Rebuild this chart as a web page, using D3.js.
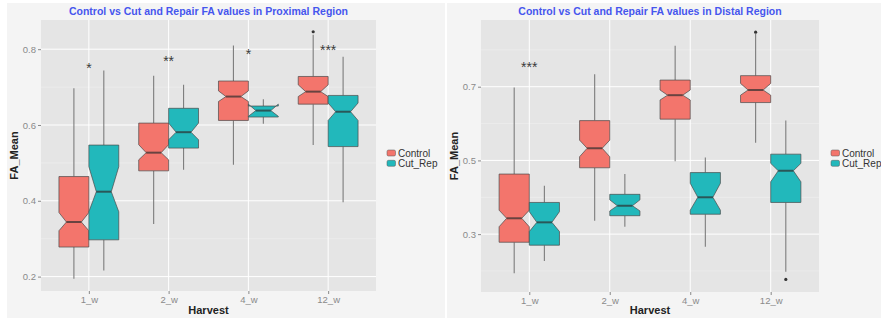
<!DOCTYPE html>
<html>
<head>
<meta charset="utf-8">
<script src="https://cdn.jsdelivr.net/npm/d3@7"></script>
<style>
  html, body { margin: 0; padding: 0; background: #ffffff; }
  svg { display: block; font-family: "Liberation Sans", Arial, Helvetica, sans-serif; }
</style>
</head>
<body>
<svg id="chart" width="881" height="320"></svg>
<script>
// Harvest time points and groups
const categories = ["1_w", "2_w", "4_w", "12_w"];
const groups = ["Control", "Cut_Rep"];
const groupColors = ["#f3756c", "#22b8bb"];

// Each box: [whiskerLow, q1, notchLow, median, notchHigh, q3, whiskerHigh]
const proximalControl = [
  [0.194, 0.278, 0.321, 0.344, 0.369, 0.464, 0.697],
  [0.339, 0.479, 0.508, 0.527, 0.548, 0.605, 0.730],
  [0.495, 0.612, 0.662, 0.675, 0.690, 0.716, 0.810],
  [0.547, 0.655, 0.675, 0.688, 0.706, 0.728, 0.838]
];
const proximalCutRep = [
  [0.216, 0.297, 0.371, 0.424, 0.490, 0.547, 0.744],
  [0.482, 0.539, 0.561, 0.581, 0.605, 0.644, 0.706],
  [0.603, 0.621, 0.623, 0.638, 0.655, 0.650, 0.668],
  [0.396, 0.543, 0.612, 0.635, 0.658, 0.678, 0.780]
];
const distalControl = [
  [0.194, 0.278, 0.320, 0.343, 0.365, 0.463, 0.698],
  [0.336, 0.480, 0.510, 0.533, 0.555, 0.608, 0.734],
  [0.498, 0.612, 0.664, 0.677, 0.691, 0.718, 0.811],
  [0.548, 0.657, 0.677, 0.691, 0.709, 0.730, 0.843]
];
const distalCutRep = [
  [0.227, 0.270, 0.307, 0.332, 0.361, 0.386, 0.431],
  [0.320, 0.350, 0.363, 0.377, 0.393, 0.408, 0.463],
  [0.266, 0.354, 0.365, 0.400, 0.438, 0.467, 0.508],
  [0.198, 0.386, 0.442, 0.472, 0.492, 0.517, 0.608]
];

// Outlying points: [category, group, value]
const proximalOutliers = [["12_w", "Control", 0.846]];
const distalOutliers = [["12_w", "Control", 0.848], ["12_w", "Cut_Rep", 0.177]];

// Significance markers per harvest and their heights
const proximalStars = ["*", "**", "*", "***"];
const proximalStarY = [0.760, 0.777, 0.797, 0.808];
const distalStars = ["***", "", "", ""];
const distalStarY = [0.762, 0, 0, 0];

// Axis ticks
const proximalTicks = [0.2, 0.4, 0.6, 0.8];
const proximalMinor = [0.3, 0.5, 0.7];
const distalTicks = [0.3, 0.5, 0.7];
const distalMinor = [0.2, 0.4, 0.6, 0.8];

const svg = d3.select("#chart");

function drawPanel(o) {
  const g = svg.append("g");
  // panel background
  g.append("rect").attr("x", o.bg[0]).attr("y", 3).attr("width", o.bg[1] - o.bg[0]).attr("height", 315)
    .attr("fill", "#f4f4f4");

  const x = d3.scalePoint().domain(categories).range([o.left, o.right]).padding(0.6);
  const y = d3.scaleLinear().domain(o.yDomain).range([o.bottom, o.top]);
  const step = x.step();
  const boxW = step * 0.375;
  const dodge = [-boxW / 2, boxW / 2];

  // plot area
  g.append("rect").attr("x", o.left).attr("y", o.top)
    .attr("width", o.right - o.left).attr("height", o.bottom - o.top).attr("fill", "#e5e5e5");

  // grid
  g.selectAll(".minor").data(o.minor.filter(v => y(v) > o.top && y(v) < o.bottom)).join("line")
    .attr("x1", o.left).attr("x2", o.right).attr("y1", d => y(d)).attr("y2", d => y(d))
    .attr("stroke", "#f0f0f0").attr("stroke-width", 0.6);
  g.selectAll(".major").data(o.ticks).join("line")
    .attr("x1", o.left).attr("x2", o.right).attr("y1", d => y(d)).attr("y2", d => y(d))
    .attr("stroke", "#ffffff").attr("stroke-width", 1);
  g.selectAll(".vgrid").data(categories).join("line")
    .attr("x1", d => x(d)).attr("x2", d => x(d)).attr("y1", o.top).attr("y2", o.bottom)
    .attr("stroke", "#ffffff").attr("stroke-width", 1);

  // axes
  const yAxis = d3.axisLeft(y).tickValues(o.ticks).tickFormat(d3.format(".1f")).tickSize(3).tickPadding(2);
  const ya = g.append("g").attr("transform", `translate(${o.left},0)`).call(yAxis);
  const xAxis = d3.axisBottom(x).tickSize(3).tickPadding(2);
  const xa = g.append("g").attr("transform", `translate(0,${o.bottom})`).call(xAxis);
  [ya, xa].forEach(a => {
    a.select(".domain").remove();
    a.selectAll("line").attr("stroke", "#8a8a8a");
    a.selectAll("text").attr("fill", "#8a8a8a").style("font-size", "9.5px");
  });

  // boxes
  [o.control, o.cutRep].forEach((series, gi) => {
    series.forEach((b, ci) => {
      const cx = x(categories[ci]) + dodge[gi];
      const x0 = cx - boxW / 2, x1 = cx + boxW / 2, nw = boxW * 0.25;
      const [wl, q1, nl, md, nh, q3, wh] = b;
      // whiskers
      g.append("line").attr("x1", cx).attr("x2", cx).attr("y1", y(q3)).attr("y2", y(wh))
        .attr("stroke", "#7c7c7c").attr("stroke-width", 1.1);
      g.append("line").attr("x1", cx).attr("x2", cx).attr("y1", y(q1)).attr("y2", y(wl))
        .attr("stroke", "#7c7c7c").attr("stroke-width", 1.1);
      // notched box
      const pts = [
        [x0, y(q1)], [x0, y(nl)], [x0 + nw, y(md)], [x0, y(nh)], [x0, y(q3)],
        [x1, y(q3)], [x1, y(nh)], [x1 - nw, y(md)], [x1, y(nl)], [x1, y(q1)]
      ];
      g.append("path").attr("d", d3.line()(pts) + "Z")
        .attr("fill", groupColors[gi]).attr("stroke", "#4a4a4a").attr("stroke-width", 0.7);
      // median
      g.append("line").attr("x1", x0 + nw).attr("x2", x1 - nw).attr("y1", y(md)).attr("y2", y(md))
        .attr("stroke", "#2e2e2e").attr("stroke-opacity", 0.7).attr("stroke-width", 2);
    });
  });

  // outliers
  g.selectAll(".out").data(o.outliers).join("circle")
    .attr("cx", d => x(d[0]) + dodge[groups.indexOf(d[1])])
    .attr("cy", d => y(d[2])).attr("r", 1.6).attr("fill", "#333");

  // significance markers
  g.selectAll(".star").data(o.stars.map((s, i) => [s, o.starY[i], categories[i]]).filter(d => d[0]))
    .join("text")
    .attr("x", d => x(d[2])).attr("y", d => y(d[1]) + 8.5)
    .attr("text-anchor", "middle").attr("fill", "#3a3a3a").style("font-size", "14px")
    .text(d => d[0]);

  // titles
  const cxp = (o.left + o.right) / 2;
  g.append("text").attr("x", cxp).attr("y", 15).attr("text-anchor", "middle")
    .attr("fill", "#4656ee").style("font-size", "10.5px").style("font-weight", "bold").text(o.title);
  g.append("text").attr("x", cxp).attr("y", 314).attr("text-anchor", "middle")
    .attr("fill", "#222").style("font-size", "11px").style("font-weight", "bold").text("Harvest");
  g.append("text").attr("transform", `translate(${o.yTitleX},${(o.top + o.bottom) / 2}) rotate(-90)`)
    .attr("text-anchor", "middle").attr("fill", "#222").style("font-size", "11px").style("font-weight", "bold")
    .text("FA_Mean");

  // legend
  const lg = g.append("g").attr("transform", `translate(${o.legendX},150)`);
  groups.forEach((name, i) => {
    lg.append("rect").attr("x", 0).attr("y", i * 10.3).attr("width", 8.5).attr("height", 6)
      .attr("rx", 1.5).attr("fill", groupColors[i]).attr("stroke", "#555").attr("stroke-width", 0.5);
    lg.append("text").attr("x", 11).attr("y", i * 10.3 + 6.5).attr("fill", "#333")
      .style("font-size", "10px").text(name);
  });
}

drawPanel({
  bg: [7, 445], left: 41, right: 376, top: 20, bottom: 291,
  yDomain: [0.162, 0.877], ticks: proximalTicks, minor: proximalMinor,
  control: proximalControl, cutRep: proximalCutRep, outliers: proximalOutliers,
  stars: proximalStars, starY: proximalStarY,
  title: "Control vs Cut and Repair FA values in Proximal Region",
  yTitleX: 18, legendX: 387
});
drawPanel({
  bg: [447, 881], left: 481, right: 819, top: 20, bottom: 292,
  yDomain: [0.143, 0.881], ticks: distalTicks, minor: distalMinor,
  control: distalControl, cutRep: distalCutRep, outliers: distalOutliers,
  stars: distalStars, starY: distalStarY,
  title: "Control vs Cut and Repair FA values in Distal Region",
  yTitleX: 458, legendX: 831
});
</script>
</body>
</html>
